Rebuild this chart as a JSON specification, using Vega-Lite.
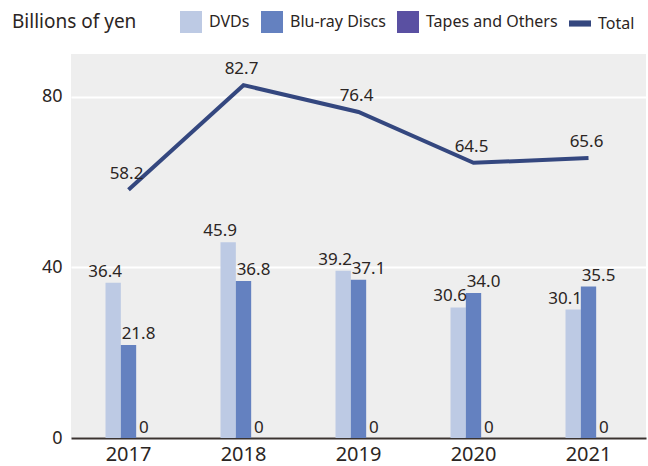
{
  "$schema": "https://vega.github.io/schema/vega-lite/v6.json",
  "width": 575,
  "height": 384,
  "autosize": "none",
  "padding": {"left": 71, "top": 54, "right": 2, "bottom": 28},
  "background": "white",
  "config": {
    "font": "Noto Sans",
    "view": {"fill": "#eeeeee", "stroke": null},
    "axis": {"labelColor": "#2b2523", "titleColor": "#2b2523"}
  },
  "data": {
    "values": [
      {"year": "2017", "series": "DVDs", "value": 36.4},
      {"year": "2017", "series": "Blu-ray Discs", "value": 21.8},
      {"year": "2017", "series": "Tapes and Others", "value": 0},
      {"year": "2017", "series": "Total", "value": 58.2},
      {"year": "2018", "series": "DVDs", "value": 45.9},
      {"year": "2018", "series": "Blu-ray Discs", "value": 36.8},
      {"year": "2018", "series": "Tapes and Others", "value": 0},
      {"year": "2018", "series": "Total", "value": 82.7},
      {"year": "2019", "series": "DVDs", "value": 39.2},
      {"year": "2019", "series": "Blu-ray Discs", "value": 37.1},
      {"year": "2019", "series": "Tapes and Others", "value": 0},
      {"year": "2019", "series": "Total", "value": 76.4},
      {"year": "2020", "series": "DVDs", "value": 30.6},
      {"year": "2020", "series": "Blu-ray Discs", "value": 34.0},
      {"year": "2020", "series": "Tapes and Others", "value": 0},
      {"year": "2020", "series": "Total", "value": 64.5},
      {"year": "2021", "series": "DVDs", "value": 30.1},
      {"year": "2021", "series": "Blu-ray Discs", "value": 35.5},
      {"year": "2021", "series": "Tapes and Others", "value": 0},
      {"year": "2021", "series": "Total", "value": 65.6}
    ]
  },
  "encoding": {
    "x": {
      "field": "year", "type": "nominal",
      "scale": {"paddingInner": 0.6, "paddingOuter": 0.3},
      "axis": {
        "title": null, "labelAngle": 0, "ticks": false,
        "labelFontSize": 20, "labelPadding": 6,
        "domainColor": "#3a3330", "domainWidth": 2
      }
    },
    "y": {
      "field": "value", "type": "quantitative",
      "scale": {"domain": [0, 90], "nice": false},
      "axis": {
        "title": null, "values": [0, 40, 80], "domain": false, "ticks": false,
        "labelFontSize": 18, "labelPadding": 9,
        "gridColor": "white", "gridWidth": 2, "gridOpacity": 1
      }
    }
  },
  "layer": [
    {
      "transform": [{"filter": "datum.series !== 'Total'"}],
      "mark": {"type": "bar"},
      "encoding": {
        "xOffset": {"field": "series", "type": "nominal", "scale": {"domain": ["DVDs", "Blu-ray Discs", "Tapes and Others"]}},
        "color": {
          "field": "series", "type": "nominal",
          "scale": {
            "domain": ["DVDs", "Blu-ray Discs", "Tapes and Others", "Total"],
            "range": ["#bdcae4", "#6481c0", "#5a50a2", "#34477f"]
          },
          "legend": {
            "orient": "none", "legendX": -59, "legendY": -43,
            "direction": "horizontal",
            "title": "Billions of yen", "titleOrient": "left",
            "titleFontSize": 19, "titleFontWeight": "normal", "titleColor": "#2b2523",
            "titlePadding": 43, "titleBaseline": "middle", "titleAnchor": "middle",
            "labelFontSize": 16, "labelColor": "#2b2523", "labelOffset": 7,
            "columnPadding": 11, "symbolSize": 484, "symbolStrokeWidth": 0,
            "symbolType": "square",
            "encode": {
              "symbols": {
                "update": {
                  "shape": {"signal": "datum.label === 'Total' ? 'M-1,-0.28H1V0.28H-1Z' : 'square'"},
                  "strokeWidth": {"value": 0}
                }
              }
            }
          }
        }
      }
    },
    {
      "transform": [{"filter": "datum.series === 'Total'"}],
      "mark": {"type": "line", "color": "#34477f", "strokeWidth": 4},
      "encoding": {}
    },
    {
      "transform": [{"filter": "datum.series === 'Total'"}],
      "mark": {"type": "text", "fontSize": 17, "color": "#2b2523", "baseline": "alphabetic", "dy": -11, "dx": -2},
      "encoding": {"text": {"field": "value", "type": "quantitative", "format": ".1f"}}
    },
    {
      "transform": [{"filter": "datum.series === 'DVDs'"}],
      "mark": {"type": "text", "fontSize": 17, "color": "#2b2523", "baseline": "alphabetic", "dy": -6, "dx": -8},
      "encoding": {
        "xOffset": {"field": "series", "type": "nominal"},
        "text": {"field": "value", "type": "quantitative", "format": ".1f"}
      }
    },
    {
      "transform": [{"filter": "datum.series === 'Blu-ray Discs'"}],
      "mark": {"type": "text", "fontSize": 17, "color": "#2b2523", "baseline": "alphabetic", "dy": -6, "dx": 10},
      "encoding": {
        "xOffset": {"field": "series", "type": "nominal"},
        "text": {"field": "value", "type": "quantitative", "format": ".1f"}
      }
    },
    {
      "transform": [{"filter": "datum.series === 'Tapes and Others'"}],
      "mark": {"type": "text", "fontSize": 17, "color": "#2b2523", "baseline": "alphabetic", "dy": -5},
      "encoding": {
        "xOffset": {"field": "series", "type": "nominal"},
        "text": {"field": "value", "type": "quantitative", "format": "d"}
      }
    }
  ]
}
